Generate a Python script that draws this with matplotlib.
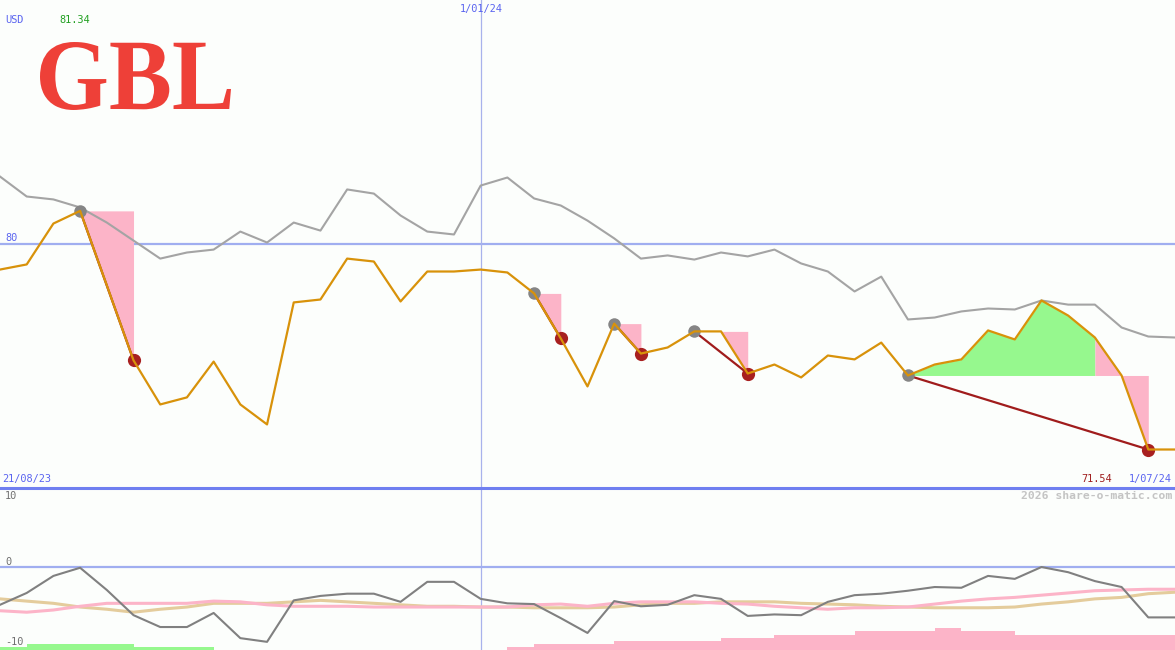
import matplotlib
matplotlib.use("Agg")
import matplotlib.pyplot as plt
from matplotlib.textpath import TextPath
from matplotlib.font_manager import FontProperties
from matplotlib.patches import PathPatch
from matplotlib.lines import Line2D
from matplotlib import transforms
import numpy as np

# ===== data =====
price = [78.93, 79.14, 80.82, 81.34, 78.28, 75.20, 73.39, 73.68, 75.15, 73.39,
         72.57, 77.58, 77.70, 79.38, 79.26, 77.62, 78.85, 78.85, 78.93, 78.81,
         77.95, 76.10, 74.13, 76.71, 75.48, 75.73, 76.39, 76.39, 74.66, 75.03,
         74.50, 75.40, 75.24, 75.93, 74.58, 75.03, 75.24, 76.43, 76.06, 77.66,
         77.04, 76.14, 74.58, 71.54, 71.54]
index_line = [82.75, 81.93, 81.81, 81.48, 80.86, 80.12, 79.38, 79.63, 79.75, 80.49,
              80.04, 80.86, 80.53, 82.22, 82.05, 81.15, 80.49, 80.37, 82.38, 82.71,
              81.85, 81.56, 80.94, 80.21, 79.38, 79.51, 79.34, 79.63, 79.47, 79.75,
              79.18, 78.85, 78.03, 78.64, 76.88, 76.96, 77.21, 77.33, 77.29, 77.66,
              77.49, 77.49, 76.55, 76.18, 76.14]
momentum = [-5.1, -3.5, -1.2, -0.1, -3.1, -6.5, -8.1, -8.1, -6.2, -9.6,
            -10.1, -4.5, -3.9, -3.6, -3.6, -4.7, -2.0, -2.0, -4.3, -4.9,
            -5.0, -6.9, -8.9, -4.6, -5.3, -5.1, -3.8, -4.3, -6.6, -6.4,
            -6.5, -4.7, -3.8, -3.6, -3.2, -2.7, -2.8, -1.2, -1.6, 0.0,
            -0.7, -1.9, -2.7, -6.8, -6.8]
avg_pink = [-5.9, -6.1, -5.8, -5.3, -4.9, -4.9, -4.9, -4.9, -4.6, -4.7,
            -5.1, -5.3, -5.3, -5.3, -5.4, -5.4, -5.4, -5.4, -5.4, -5.4,
            -5.1, -5.0, -5.3, -4.9, -4.7, -4.7, -4.7, -4.9, -5.0, -5.3,
            -5.5, -5.7, -5.5, -5.5, -5.4, -5.0, -4.6, -4.3, -4.1, -3.8,
            -3.5, -3.2, -3.1, -3.0, -3.0]
avg_tan = [-4.3, -4.6, -4.9, -5.4, -5.7, -6.1, -5.7, -5.4, -4.9, -4.9,
           -4.9, -4.7, -4.5, -4.7, -4.9, -5.1, -5.3, -5.3, -5.4, -5.4,
           -5.5, -5.5, -5.5, -5.4, -5.1, -4.9, -4.9, -4.7, -4.7, -4.7,
           -4.9, -5.0, -5.1, -5.3, -5.4, -5.5, -5.5, -5.5, -5.4, -5.0,
           -4.7, -4.3, -4.1, -3.6, -3.4]
bars_green = [0.4, 0.8, 0.8, 0.8, 0.8, 0.4, 0.4, 0.4] + [0] * 37
bars_pink = ([0] * 19 + [0.4, 0.8, 0.8, 0.8, 1.2, 1.2, 1.2, 1.2, 1.6, 1.6,
             2.0, 2.0, 2.0, 2.6, 2.6, 2.6, 3.0, 2.6, 2.6, 2.0,
             2.0, 2.0, 2.0, 2.0, 2.0] + [0])

peaks = [3, 20, 23, 26, 34]
troughs = [5, 21, 24, 28, 43]
green_end = 41  # last drawdown: green part before the fall

x = np.arange(len(price))
BG = "#fcfefc"
ORANGE = "#d8920a"
BLUE_TXT = "#5a64f0"

fig = plt.figure(figsize=(11.75, 6.5), dpi=100, facecolor=BG)
ax = fig.add_axes([0, 163 / 650, 1, 487 / 650])
axb = fig.add_axes([0, 0, 1, 163 / 650])
for a in (ax, axb):
    a.set_facecolor("none")
    a.set_xlim(0, 44)
    a.set_xticks([])
    a.set_yticks([])
    for s in a.spines.values():
        s.set_visible(False)
ax.set_ylim(70, 90)
axb.set_ylim(-11.2, 10.8)

# ===== top panel =====
ax.axhline(80, color="#a0aef0", lw=1.6, zorder=1)
ax.axvline(18, color="#a8b2ec", lw=0.9, zorder=1)
axb.axvline(18, color="#a8b2ec", lw=0.9, zorder=1)

price_a = np.array(price)
for p, t in zip(peaks, troughs):
    lvl = price[p]
    if t == troughs[-1]:
        ax.fill_between(x[p:green_end + 1], price_a[p:green_end + 1], lvl,
                        color="#96f88e", lw=0, zorder=2)
        ax.fill_between(x[green_end:t + 1], price_a[green_end:t + 1], lvl,
                        color="#fcb4c8", lw=0, zorder=2)
    else:
        ax.fill_between(x[p:t + 1], price_a[p:t + 1], lvl,
                        color="#fcb4c8", lw=0, zorder=2)
    ax.plot([p, t], [price[p], price[t]], color="#a01c1c", lw=1.6, zorder=3)
    ax.plot(p, price[p], "o", color="#858585", ms=9, mew=0, zorder=4)
    ax.plot(t, price[t], "o", color="#a82020", ms=9.5, mew=0, zorder=4)

ax.plot(x, index_line, color="#a4a4a4", lw=1.5, zorder=3)
ax.plot(x, price, color=ORANGE, lw=1.6, zorder=5)

# ===== bottom panel =====
axb.axhline(0, color="#a0aef0", lw=1.6, zorder=1)
axb.bar(x, bars_green, width=1, align="edge", bottom=-11.2, color="#96f88e", lw=0, zorder=2)
axb.bar(x, bars_pink, width=1, align="edge", bottom=-11.2, color="#fcb4c8", lw=0, zorder=2)
axb.plot(x, avg_tan, color="#e4cc9c", lw=2.2, zorder=3)
axb.plot(x, avg_pink, color="#fcb4c8", lw=2.2, zorder=3)
axb.plot(x, momentum, color="#808080", lw=1.5, zorder=4)

# separator between the panels
fig.lines.append(Line2D([0, 1], [1 - 487.5 / 650] * 2, transform=fig.transFigure,
                        color="#6f7ff0", lw=2.2, zorder=6))


# ===== texts (pixel positions) =====
def px(xp, yp):
    return xp / 1175, 1 - yp / 650


mono = "DejaVu Sans Mono"
fig.text(*px(5, 20), "USD", color=BLUE_TXT, fontsize=7.4, family=mono, va="center")
fig.text(*px(59, 20), "81.34", color="#22a022", fontsize=7.4, family=mono, va="center")
fig.text(*px(481, 9), "1/01/24", color=BLUE_TXT, fontsize=7.4, family=mono, va="center", ha="center")
fig.text(*px(5, 238), "80", color=BLUE_TXT, fontsize=7.4, family=mono, va="center")
fig.text(*px(2, 479), "21/08/23", color=BLUE_TXT, fontsize=7.4, family=mono, va="center")
fig.text(*px(1112, 479), "71.54", color="#a02020", fontsize=7.4, family=mono, va="center", ha="right")
fig.text(*px(1172, 479), "1/07/24", color=BLUE_TXT, fontsize=7.4, family=mono, va="center", ha="right")
fig.text(*px(1172, 496), "2026 share-o-matic.com", color="#c4c4c4", fontsize=8.2,
         family=mono, weight="bold", va="center", ha="right")
fig.text(*px(5, 496), "10", color="#707070", fontsize=7.4, family=mono, va="center")
fig.text(*px(5, 562), "0", color="#707070", fontsize=7.4, family=mono, va="center")
fig.text(*px(5, 642), "-10", color="#707070", fontsize=7.4, family=mono, va="center")

# ===== logo =====
tp = TextPath((0, 0), "GBL", size=100,
              prop=FontProperties(family="Liberation Serif", weight="bold"))
ext = tp.get_extents()
box_x0, box_x1, box_y0, box_y1 = 40, 231, 650 - 110, 650 - 42
tr = (transforms.Affine2D()
      .translate(-ext.x0, -ext.y0)
      .scale((box_x1 - box_x0) / ext.width, (box_y1 - box_y0) / ext.height)
      .translate(box_x0, box_y0))
fig.patches.append(PathPatch(tr.transform_path(tp), color="#ee4038", lw=0,
                             transform=transforms.IdentityTransform(), figure=fig))

fig.savefig("out.png", dpi=100, facecolor=BG)
